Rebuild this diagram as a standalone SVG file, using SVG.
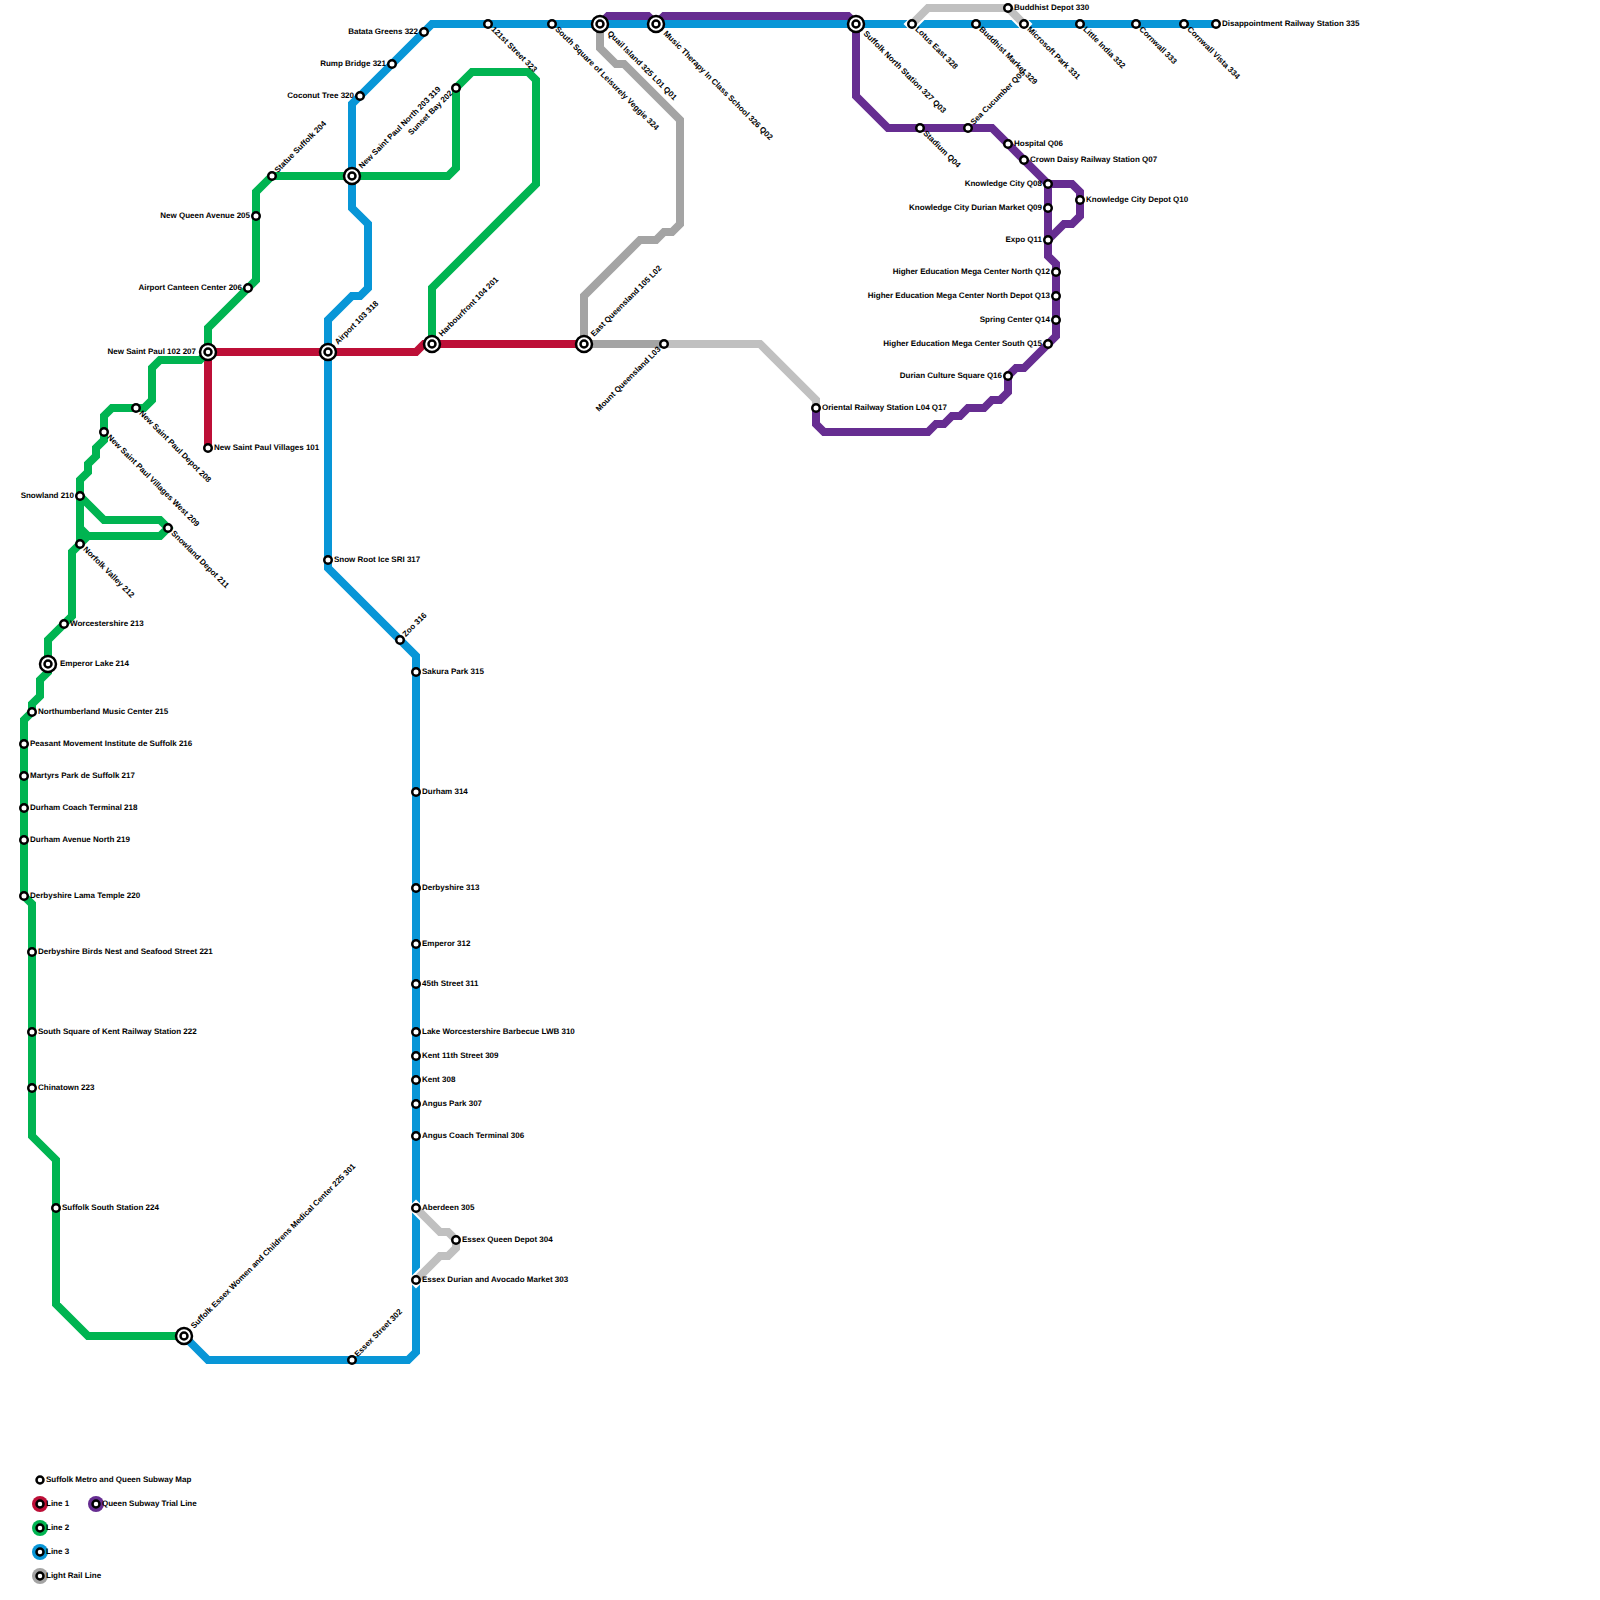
<svg xmlns="http://www.w3.org/2000/svg" width="1600" height="1600" viewBox="0 0 1600 1600">
<style>
.l{fill:none;stroke-width:8;stroke-linejoin:miter;stroke-linecap:butt}
.red{stroke:#bd0f37}.green{stroke:#00b451}.blue{stroke:#0896d7}.purple{stroke:#662d91}.gray{stroke:#a4a4a4}.lgray{stroke:#c0c0c0}
.case{fill:none;stroke:#fff;stroke-width:12;stroke-linecap:square;stroke-linejoin:miter}
.s{fill:#fff;stroke:#000;stroke-width:2.5}
text{font-family:"Liberation Sans",Arial,sans-serif;font-size:8px;font-weight:bold;fill:#000;text-rendering:geometricPrecision}
.e{text-anchor:end}
</style>
<rect width="1600" height="1600" fill="#fff"/>
<g id="connectors">
<path class="l purple" d="M600 24L608 16H648L656 24L664 16H848L856 24V96L888 128H992L1048 184V256L1056 264V336L1024 368H1016L1008 376V392L1000 400H992L984 408H968L960 416H952L944 424H936L928 432H824L816 424V408"/>
<path class="l purple" d="M1048 184H1072L1080 192V216L1072 224H1064L1048 240"/>
<path class="l red" d="M208 448V352H416L424 344H584"/>
<path class="l green" d="M432 344V288L536 184V80L528 72H472L456 88V168L448 176H272L256 192V280L208 328V352L200 360H160L152 368V400L144 408H112L104 416V440L96 448V456L88 464V472L80 480V544L72 552V616L48 640V672L40 680V696L32 704V712L24 720V896L32 904V1136L56 1160V1304L88 1336H184"/>
<path class="l green" d="M80 496L104 520H160L168 528L160 536H88L80 528"/>
<path class="l green" d="M88 536L80 544"/>
<path class="l blue" d="M184 1336L208 1360H408L416 1352V656L328 568V320L352 296H360L368 288V224L352 208V104L432 24H1216"/>
<path class="l gray" d="M600 24V48L616 64H624L680 120V224L672 232H664L656 240H640L584 296V344H664"/>
<path class="l lgray" d="M664 344H760L816 400V408"/>
<path class="case" d="M912 24L928 8H1008L1024 24"/>
<path class="case" d="M416 1208L440 1232H448L456 1240V1248L448 1256H440L416 1280"/>
<path class="l lgray" d="M912 24L928 8H1008L1024 24"/>
<path class="l lgray" d="M416 1208L440 1232H448L456 1240V1248L448 1256H440L416 1280"/>
</g>
<g id="n101"><circle class="s" cx="208" cy="448" r="3.75"/><text x="214" y="450">New Saint Paul Villages 101</text></g>
<g id="n102"><circle class="s" cx="208" cy="352" r="8"/><circle class="s" cx="208" cy="352" r="3.5"/><text x="196" y="354" class="e">New Saint Paul 102 207</text></g>
<g id="n103"><circle class="s" cx="328" cy="352" r="8"/><circle class="s" cx="328" cy="352" r="3.5"/><text x="340" y="354" transform="rotate(-45 328 352)">Airport 103 318</text></g>
<g id="n104"><circle class="s" cx="432" cy="344" r="8"/><circle class="s" cx="432" cy="344" r="3.5"/><text x="444" y="346" transform="rotate(-45 432 344)">Harbourfront 104 201</text></g>
<g id="n105"><circle class="s" cx="584" cy="344" r="8"/><circle class="s" cx="584" cy="344" r="3.5"/><text x="596" y="346" transform="rotate(-45 584 344)">East Queensland 105 L02</text></g>
<g id="n106"><circle class="s" cx="664" cy="344" r="3.75"/><text x="658" y="346" class="e" transform="rotate(-45 664 344)">Mount Queensland L03</text></g>
<g id="n107"><circle class="s" cx="816" cy="408" r="3.75"/><text x="822" y="410">Oriental Railway Station L04 Q17</text></g>
<g id="n202"><circle class="s" cx="456" cy="88" r="3.75"/><text x="450" y="90" class="e" transform="rotate(-45 456 88)">Sunset Bay 202</text></g>
<g id="n203"><circle class="s" cx="352" cy="176" r="8"/><circle class="s" cx="352" cy="176" r="3.5"/><text x="364" y="178" transform="rotate(-45 352 176)">New Saint Paul North 203 319</text></g>
<g id="n204"><circle class="s" cx="272" cy="176" r="3.75"/><text x="278" y="178" transform="rotate(-45 272 176)">Statue Suffolk 204</text></g>
<g id="n205"><circle class="s" cx="256" cy="216" r="3.75"/><text x="250" y="218" class="e">New Queen Avenue 205</text></g>
<g id="n206"><circle class="s" cx="248" cy="288" r="3.75"/><text x="242" y="290" class="e">Airport Canteen Center 206</text></g>
<g id="n208"><circle class="s" cx="136" cy="408" r="3.75"/><text x="142" y="410" transform="rotate(45 136 408)">New Saint Paul Depot 208</text></g>
<g id="n209"><circle class="s" cx="104" cy="432" r="3.75"/><text x="110" y="434" transform="rotate(45 104 432)">New Saint Paul Villages West 209</text></g>
<g id="n210"><circle class="s" cx="80" cy="496" r="3.75"/><text x="74" y="498" class="e">Snowland 210</text></g>
<g id="n211"><circle class="s" cx="168" cy="528" r="3.75"/><text x="174" y="530" transform="rotate(45 168 528)">Snowland Depot 211</text></g>
<g id="n212"><circle class="s" cx="80" cy="544" r="3.75"/><text x="86" y="546" transform="rotate(45 80 544)">Norfolk Valley 212</text></g>
<g id="n213"><circle class="s" cx="64" cy="624" r="3.75"/><text x="70" y="626">Worcestershire 213</text></g>
<g id="n214"><circle class="s" cx="48" cy="664" r="8"/><circle class="s" cx="48" cy="664" r="3.5"/><text x="60" y="666">Emperor Lake 214</text></g>
<g id="n215"><circle class="s" cx="32" cy="712" r="3.75"/><text x="38" y="714">Northumberland Music Center 215</text></g>
<g id="n216"><circle class="s" cx="24" cy="744" r="3.75"/><text x="30" y="746">Peasant Movement Institute de Suffolk 216</text></g>
<g id="n217"><circle class="s" cx="24" cy="776" r="3.75"/><text x="30" y="778">Martyrs Park de Suffolk 217</text></g>
<g id="n218"><circle class="s" cx="24" cy="808" r="3.75"/><text x="30" y="810">Durham Coach Terminal 218</text></g>
<g id="n219"><circle class="s" cx="24" cy="840" r="3.75"/><text x="30" y="842">Durham Avenue North 219</text></g>
<g id="n220"><circle class="s" cx="24" cy="896" r="3.75"/><text x="30" y="898">Derbyshire Lama Temple 220</text></g>
<g id="n221"><circle class="s" cx="32" cy="952" r="3.75"/><text x="38" y="954">Derbyshire Birds Nest and Seafood Street 221</text></g>
<g id="n222"><circle class="s" cx="32" cy="1032" r="3.75"/><text x="38" y="1034">South Square of Kent Railway Station 222</text></g>
<g id="n223"><circle class="s" cx="32" cy="1088" r="3.75"/><text x="38" y="1090">Chinatown 223</text></g>
<g id="n224"><circle class="s" cx="56" cy="1208" r="3.75"/><text x="62" y="1210">Suffolk South Station 224</text></g>
<g id="n225"><circle class="s" cx="184" cy="1336" r="8"/><circle class="s" cx="184" cy="1336" r="3.5"/><text x="196" y="1338" transform="rotate(-45 184 1336)">Suffolk Essex Women and Childrens Medical Center 225 301</text></g>
<g id="n302"><circle class="s" cx="352" cy="1360" r="3.75"/><text x="358" y="1362" transform="rotate(-45 352 1360)">Essex Street 302</text></g>
<g id="n303"><circle class="s" cx="416" cy="1280" r="3.75"/><text x="422" y="1282">Essex Durian and Avocado Market 303</text></g>
<g id="n304"><circle class="s" cx="456" cy="1240" r="3.75"/><text x="462" y="1242">Essex Queen Depot 304</text></g>
<g id="n305"><circle class="s" cx="416" cy="1208" r="3.75"/><text x="422" y="1210">Aberdeen 305</text></g>
<g id="n306"><circle class="s" cx="416" cy="1136" r="3.75"/><text x="422" y="1138">Angus Coach Terminal 306</text></g>
<g id="n307"><circle class="s" cx="416" cy="1104" r="3.75"/><text x="422" y="1106">Angus Park 307</text></g>
<g id="n308"><circle class="s" cx="416" cy="1080" r="3.75"/><text x="422" y="1082">Kent 308</text></g>
<g id="n309"><circle class="s" cx="416" cy="1056" r="3.75"/><text x="422" y="1058">Kent 11th Street 309</text></g>
<g id="n310"><circle class="s" cx="416" cy="1032" r="3.75"/><text x="422" y="1034">Lake Worcestershire Barbecue LWB 310</text></g>
<g id="n311"><circle class="s" cx="416" cy="984" r="3.75"/><text x="422" y="986">45th Street 311</text></g>
<g id="n312"><circle class="s" cx="416" cy="944" r="3.75"/><text x="422" y="946">Emperor 312</text></g>
<g id="n313"><circle class="s" cx="416" cy="888" r="3.75"/><text x="422" y="890">Derbyshire 313</text></g>
<g id="n314"><circle class="s" cx="416" cy="792" r="3.75"/><text x="422" y="794">Durham 314</text></g>
<g id="n315"><circle class="s" cx="416" cy="672" r="3.75"/><text x="422" y="674">Sakura Park 315</text></g>
<g id="n316"><circle class="s" cx="400" cy="640" r="3.75"/><text x="406" y="642" transform="rotate(-45 400 640)">Zoo 316</text></g>
<g id="n317"><circle class="s" cx="328" cy="560" r="3.75"/><text x="334" y="562">Snow Root Ice SRI 317</text></g>
<g id="n320"><circle class="s" cx="360" cy="96" r="3.75"/><text x="354" y="98" class="e">Coconut Tree 320</text></g>
<g id="n321"><circle class="s" cx="392" cy="64" r="3.75"/><text x="386" y="66" class="e">Rump Bridge 321</text></g>
<g id="n322"><circle class="s" cx="424" cy="32" r="3.75"/><text x="418" y="34" class="e">Batata Greens 322</text></g>
<g id="n323"><circle class="s" cx="488" cy="24" r="3.75"/><text x="494" y="26" transform="rotate(45 488 24)">121st Street 323</text></g>
<g id="n324"><circle class="s" cx="552" cy="24" r="3.75"/><text x="558" y="26" transform="rotate(45 552 24)">South Square of Leisurely Veggie 324</text></g>
<g id="n325"><circle class="s" cx="600" cy="24" r="8"/><circle class="s" cx="600" cy="24" r="3.5"/><text x="612" y="26" transform="rotate(45 600 24)">Quail Island 325 L01 Q01</text></g>
<g id="n326"><circle class="s" cx="656" cy="24" r="8"/><circle class="s" cx="656" cy="24" r="3.5"/><text x="668" y="26" transform="rotate(45 656 24)">Music Therapy In Class School 326 Q02</text></g>
<g id="n327"><circle class="s" cx="856" cy="24" r="8"/><circle class="s" cx="856" cy="24" r="3.5"/><text x="868" y="26" transform="rotate(45 856 24)">Suffolk North Station 327 Q03</text></g>
<g id="n328"><circle class="s" cx="912" cy="24" r="3.75"/><text x="918" y="26" transform="rotate(45 912 24)">Lotus East 328</text></g>
<g id="n329"><circle class="s" cx="976" cy="24" r="3.75"/><text x="982" y="26" transform="rotate(45 976 24)">Buddhist Market 329</text></g>
<g id="n330"><circle class="s" cx="1008" cy="8" r="3.75"/><text x="1014" y="10">Buddhist Depot 330</text></g>
<g id="n331"><circle class="s" cx="1024" cy="24" r="3.75"/><text x="1030" y="26" transform="rotate(45 1024 24)">Microsoft Park 331</text></g>
<g id="n332"><circle class="s" cx="1080" cy="24" r="3.75"/><text x="1086" y="26" transform="rotate(45 1080 24)">Little India 332</text></g>
<g id="n333"><circle class="s" cx="1136" cy="24" r="3.75"/><text x="1142" y="26" transform="rotate(45 1136 24)">Cornwall 333</text></g>
<g id="n334"><circle class="s" cx="1184" cy="24" r="3.75"/><text x="1190" y="26" transform="rotate(45 1184 24)">Cornwall Vista 334</text></g>
<g id="n335"><circle class="s" cx="1216" cy="24" r="3.75"/><text x="1222" y="26">Disappointment Railway Station 335</text></g>
<g id="q04"><circle class="s" cx="920" cy="128" r="3.75"/><text x="926" y="130" transform="rotate(45 920 128)">Stadium Q04</text></g>
<g id="q05"><circle class="s" cx="968" cy="128" r="3.75"/><text x="974" y="130" transform="rotate(-45 968 128)">Sea Cucumber Q05</text></g>
<g id="q06"><circle class="s" cx="1008" cy="144" r="3.75"/><text x="1014" y="146">Hospital Q06</text></g>
<g id="q07"><circle class="s" cx="1024" cy="160" r="3.75"/><text x="1030" y="162">Crown Daisy Railway Station Q07</text></g>
<g id="q08"><circle class="s" cx="1048" cy="184" r="3.75"/><text x="1042" y="186" class="e">Knowledge City Q08</text></g>
<g id="q09"><circle class="s" cx="1048" cy="208" r="3.75"/><text x="1042" y="210" class="e">Knowledge City Durian Market Q09</text></g>
<g id="q10"><circle class="s" cx="1080" cy="200" r="3.75"/><text x="1086" y="202">Knowledge City Depot Q10</text></g>
<g id="q11"><circle class="s" cx="1048" cy="240" r="3.75"/><text x="1042" y="242" class="e">Expo Q11</text></g>
<g id="q12"><circle class="s" cx="1056" cy="272" r="3.75"/><text x="1050" y="274" class="e">Higher Education Mega Center North Q12</text></g>
<g id="q13"><circle class="s" cx="1056" cy="296" r="3.75"/><text x="1050" y="298" class="e">Higher Education Mega Center North Depot Q13</text></g>
<g id="q14"><circle class="s" cx="1056" cy="320" r="3.75"/><text x="1050" y="322" class="e">Spring Center Q14</text></g>
<g id="q15"><circle class="s" cx="1048" cy="344" r="3.75"/><text x="1042" y="346" class="e">Higher Education Mega Center South Q15</text></g>
<g id="q16"><circle class="s" cx="1008" cy="376" r="3.75"/><text x="1002" y="378" class="e">Durian Culture Square Q16</text></g>
<g id="legend-title"><circle class="s" cx="40" cy="1480" r="3.5"/><text x="46" y="1482">Suffolk Metro and Queen Subway Map</text></g>
<g id="legend-line1"><circle cx="40" cy="1504" r="8" fill="#bd0f37"/><circle class="s" cx="40" cy="1504" r="3.5"/><text x="46" y="1506">Line 1</text></g>
<g id="legend-queen"><circle cx="96" cy="1504" r="8" fill="#662d91"/><circle class="s" cx="96" cy="1504" r="3.5"/><text x="102" y="1506">Queen Subway Trial Line</text></g>
<g id="legend-line2"><circle cx="40" cy="1528" r="8" fill="#00b451"/><circle class="s" cx="40" cy="1528" r="3.5"/><text x="46" y="1530">Line 2</text></g>
<g id="legend-line3"><circle cx="40" cy="1552" r="8" fill="#0896d7"/><circle class="s" cx="40" cy="1552" r="3.5"/><text x="46" y="1554">Line 3</text></g>
<g id="legend-lrl"><circle cx="40" cy="1576" r="8" fill="#a4a4a4"/><circle class="s" cx="40" cy="1576" r="3.5"/><text x="46" y="1578">Light Rail Line</text></g>
</svg>
